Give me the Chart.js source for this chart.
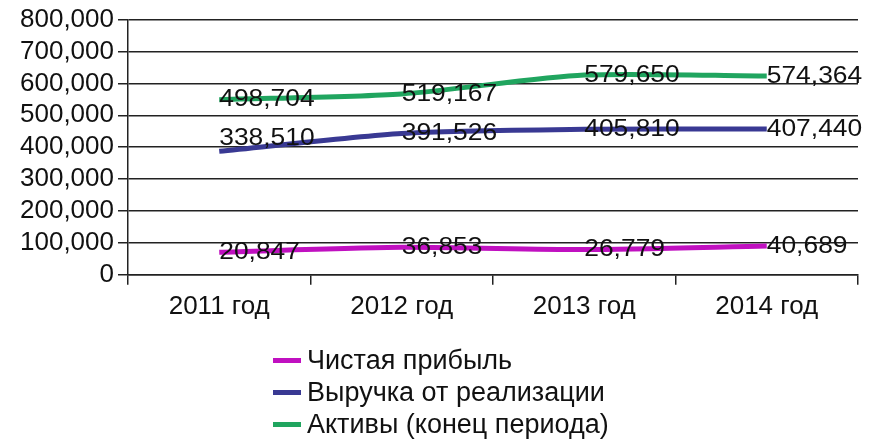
<!doctype html>
<html lang="ru">
<head>
<meta charset="utf-8" />
<title>Чистая прибыль, выручка и активы</title>
<script src="https://cdn.jsdelivr.net/npm/chart.js"></script>
<style>
  body { margin: 0; background: #fff; }
  .wrap { position: relative; width: 884px; height: 441px; }
  .legend {
    position: absolute; left: 273px; top: 344px;
    font-family: "Liberation Sans", Arial, sans-serif;
    font-size: 27px; color: #111; line-height: 32px;
  }
  .legend div { display: flex; align-items: center; white-space: nowrap; }
  .legend span.sw { display: inline-block; width: 28px; height: 5px; margin-right: 6px; }
</style>
</head>
<body>
<div class="wrap">
  <canvas id="chart" width="884" height="441"></canvas>
  <div class="legend" id="legend"></div>
</div>
<script>
// категории
const years = ["2011 год", "2012 год", "2013 год", "2014 год"];

// положение линий, как на картинке
const profitLine  = [71000, 86000, 79000, 90000];
const revenueLine = [387000, 443000, 456000, 457000];
const assetsLine  = [549000, 567000, 626000, 623000];

// подписи значений
const profitLabels  = ["20,847", "36,853", "26,779", "40,689"];
const revenueLabels = ["338,510", "391,526", "405,810", "407,440"];
const assetsLabels  = ["498,704", "519,167", "579,650", "574,364"];

// шкала Y
const yTicks = [0, 100000, 200000, 300000, 400000, 500000, 600000, 700000, 800000];

const seriesNames = ["Чистая прибыль", "Выручка от реализации", "Активы (конец периода)"];
const colors = ["#c010c0", "#393993", "#20a55f"];

const FONT = '"Liberation Sans", Arial, sans-serif';

// подписи у точек (datalabels нет, рисуем сами); чуть растянуты по ширине, как в оригинале
const valueLabels = {
  id: "valueLabels",
  afterDatasetsDraw(chart, args, opts) {
    const ctx = chart.ctx;
    const shift = opts.shift || {};
    chart.data.datasets.forEach((ds, i) => {
      const meta = chart.getDatasetMeta(i);
      meta.data.forEach((pt, j) => {
        ctx.save();
        ctx.font = "24px " + FONT;
        ctx.fillStyle = "#111";
        ctx.textAlign = "left";
        ctx.textBaseline = "middle";
        ctx.translate(pt.x, pt.y + (shift[i + "-" + j] || 0));
        ctx.scale(1.1, 1);
        ctx.fillText(ds.valueText[j], 0, 0);
        ctx.restore();
      });
    });
  }
};

const lineStyle = { borderWidth: 5, pointRadius: 0, tension: 0.25, fill: false };

new Chart(document.getElementById("chart"), {
  type: "line",
  data: {
    labels: years,
    datasets: [
      { label: seriesNames[0], data: profitLine, valueText: profitLabels,
        borderColor: colors[0], backgroundColor: colors[0], ...lineStyle },
      { label: seriesNames[1], data: revenueLine, valueText: revenueLabels,
        borderColor: colors[1], backgroundColor: colors[1], ...lineStyle },
      { label: seriesNames[2], data: assetsLine, valueText: assetsLabels,
        borderColor: colors[2], backgroundColor: colors[2], ...lineStyle }
    ]
  },
  options: {
    responsive: false,
    animation: false,
    layout: { padding: { left: 16, right: 26, top: 7, bottom: 113 } },
    plugins: {
      legend: { display: false },
      tooltip: { enabled: false },
      valueLabels: { shift: { "1-0": -13 } } // подпись 338,510 в оригинале приподнята
    },
    scales: {
      x: {
        offset: true,
        grid: { offset: true, drawOnChartArea: false, drawTicks: true, tickLength: 10, color: "#222", lineWidth: 1.5 },
        border: { color: "#222", width: 1.5 },
        ticks: { color: "#111", font: { family: FONT, size: 26 }, padding: 6 }
      },
      y: {
        min: yTicks[0],
        max: yTicks[yTicks.length - 1],
        afterBuildTicks(axis) { axis.ticks = yTicks.map(v => ({ value: v })); },
        grid: { color: "#222", lineWidth: 1.5, tickLength: 10 },
        border: { color: "#222", width: 1.5 },
        ticks: {
          autoSkip: false,
          color: "#111", font: { family: FONT, size: 26 }, padding: 4,
          callback: v => Number(v).toLocaleString("en-US")
        }
      }
    }
  },
  plugins: [valueLabels]
});

// легенда столбиком снизу
const legend = document.getElementById("legend");
seriesNames.forEach((name, i) => {
  const row = document.createElement("div");
  row.innerHTML = '<span class="sw" style="background:' + colors[i] + '"></span>' + name;
  legend.appendChild(row);
});
</script>
</body>
</html>
